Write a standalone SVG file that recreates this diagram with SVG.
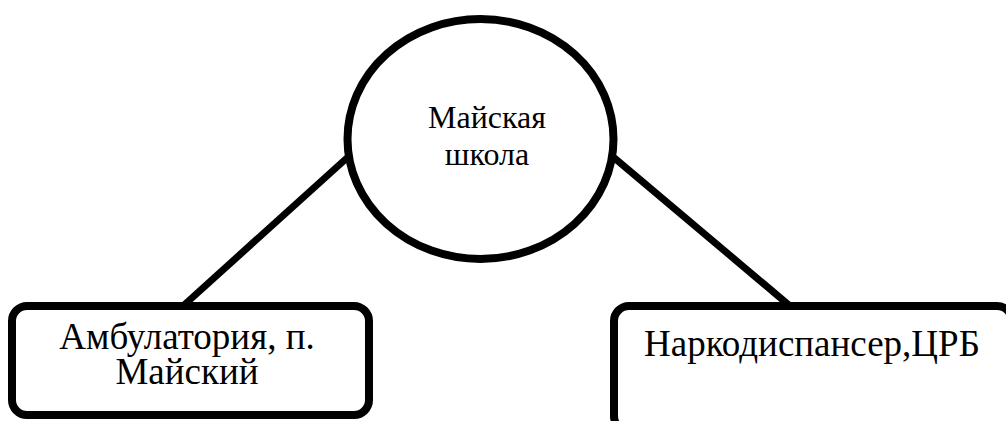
<svg xmlns="http://www.w3.org/2000/svg" width="1006" height="421" viewBox="0 0 1006 421">
<style>
.shape{fill:#fff;stroke:#000;stroke-width:8}
.conn{stroke:#000;stroke-width:7;fill:none}
text{font-family:"Liberation Serif","Times New Roman",serif;fill:#000;text-anchor:middle}
.big{font-size:37px}
.mid{font-size:32px}
</style>
<rect width="1006" height="421" fill="#fff"/>
<g id="connectors">
<line class="conn" x1="183" y1="306" x2="348" y2="157"/>
<line class="conn" x1="612" y1="156" x2="790" y2="306"/>
</g>
<g id="node-school">
<ellipse class="shape" cx="480.5" cy="139" rx="133" ry="120"/>
<text class="mid" x="487" y="128">Майская</text>
<text class="mid" x="487" y="165">школа</text>
</g>
<g id="node-ambulatory">
<rect class="shape" x="12" y="306" width="357" height="109" rx="15"/>
<text class="big" x="187" y="349">Амбулатория, п.</text>
<text class="big" x="187" y="384">Майский</text>
</g>
<g id="node-narco">
<rect class="shape" x="614" y="306" width="398" height="125" rx="15"/>
<text class="big" x="812" y="356">Наркодиспансер,ЦРБ</text>
</g>
</svg>
